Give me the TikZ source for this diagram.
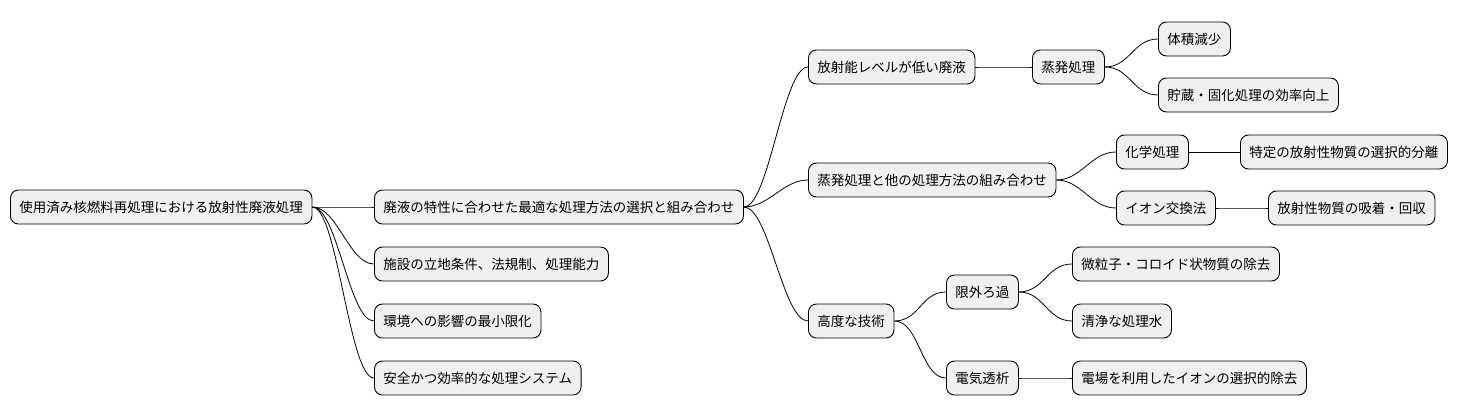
\documentclass[tikz,border=0pt]{standalone}
\usepackage{fontspec}
\setmainfont{Noto Sans CJK JP}
\begin{document}
\begin{tikzpicture}[x=1pt,y=-1pt,
  box/.style={draw=black,fill=black!6,rounded corners=8pt,line width=0.9pt,anchor=west,
    inner xsep=9pt,minimum height=34pt,font=\fontsize{13.5}{15}\selectfont},
  link/.style={draw=black,line width=0.8pt}]
\useasboundingbox (0,0) rectangle (1468,415);
\node[box] (r) at (10,207) {使用済み核燃料再処理における放射性廃液処理};
\node[box] (a) at (374,207) {廃液の特性に合わせた最適な処理方法の選択と組み合わせ};
\node[box] (b) at (374,264) {施設の立地条件、法規制、処理能力};
\node[box] (c) at (374,321) {環境への影響の最小限化};
\node[box] (d) at (374,378) {安全かつ効率的な処理システム};
\node[box] (a1) at (808,67) {放射能レベルが低い廃液};
\node[box] (a2) at (808,180) {蒸発処理と他の処理方法の組み合わせ};
\node[box] (a3) at (808,321) {高度な技術};
\node[box] (e) at (1032,67) {蒸発処理};
\node[box] (e1) at (1158,39) {体積減少};
\node[box] (e2) at (1158,95) {貯蔵・固化処理の効率向上};
\node[box] (k) at (1116,152) {化学処理};
\node[box] (k1) at (1240,152) {特定の放射性物質の選択的分離};
\node[box] (i) at (1116,208) {イオン交換法};
\node[box] (i1) at (1268,208) {放射性物質の吸着・回収};
\node[box] (u) at (946,292) {限外ろ過};
\node[box] (u1) at (1072,264) {微粒子・コロイド状物質の除去};
\node[box] (u2) at (1072,321) {清浄な処理水};
\node[box] (v) at (946,378) {電気透析};
\node[box] (v1) at (1072,378) {電場を利用したイオンの選択的除去};
\foreach \p/\c in {r/a,r/b,r/c,r/d,a/a1,a/a2,a/a3,a1/e,e/e1,e/e2,a2/k,a2/i,k/k1,i/i1,a3/u,a3/v,u/u1,u/u2,v/v1}
  \draw[link] (\p.east) .. controls +(25,0) and +(-25,0) .. (\c.west);
\end{tikzpicture}
\end{document}
